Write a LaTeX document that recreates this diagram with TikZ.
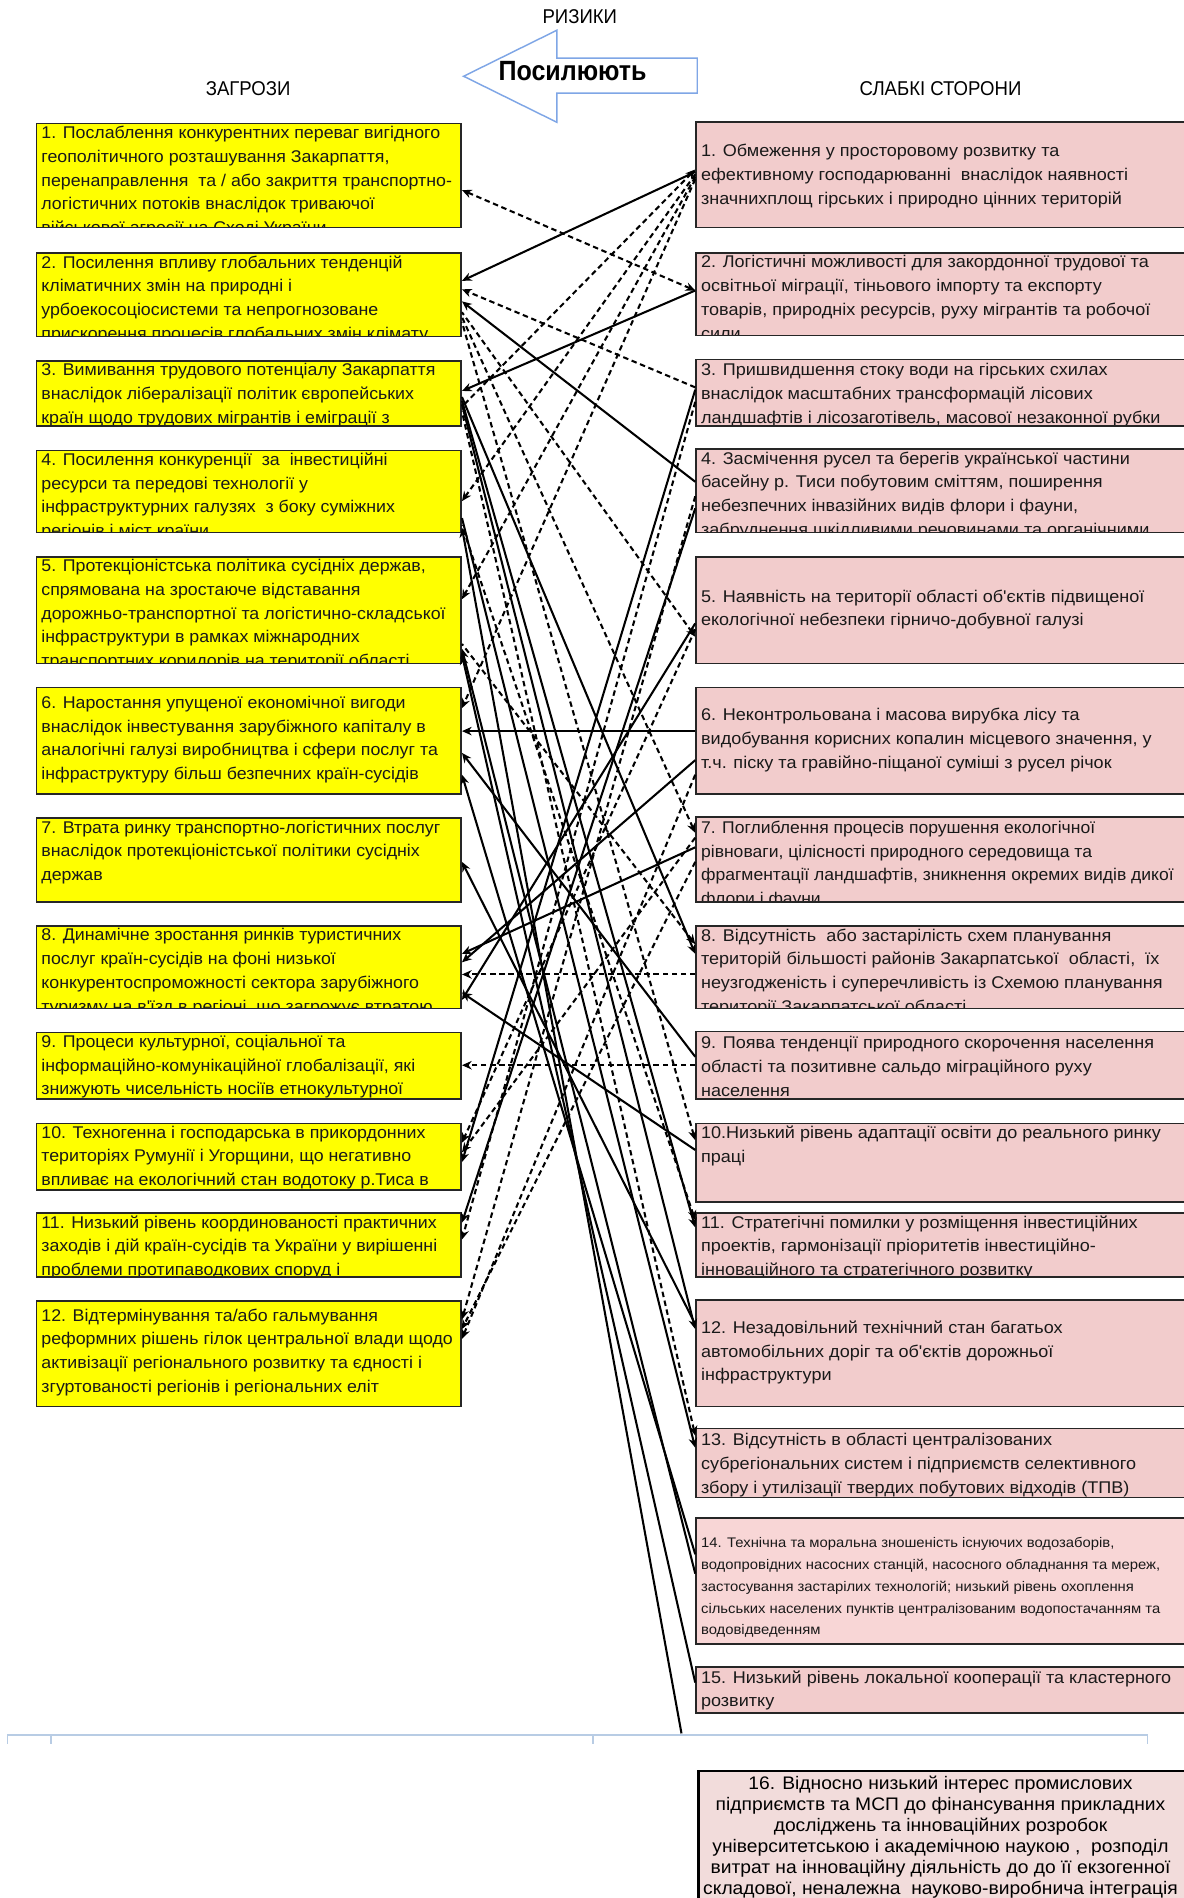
\documentclass[tikz,border=0pt]{standalone}
\usepackage{fontspec}
\setmainfont{Liberation Sans}
\newfontfamily\lfont[FakeStretch=1.05]{Liberation Sans}
\newfontfamily\rfont[FakeStretch=1.065]{Liberation Sans}
\newfontfamily\rfontn[FakeStretch=1.035]{Liberation Sans}
\newfontfamily\headfont[FakeStretch=0.93]{Liberation Sans}
\newfontfamily\arrfont[FakeStretch=0.9]{Liberation Sans}
\newfontfamily\sixfont[FakeStretch=1.06]{Liberation Sans}
\usetikzlibrary{arrows.meta,fit,calc}
\definecolor{yel}{HTML}{FFFF00}
\definecolor{pnk}{HTML}{F2CCCC}
\definecolor{pnkb}{HTML}{F8D6D6}
\definecolor{pnkc}{HTML}{F2DCDB}
\definecolor{arrblue}{HTML}{7FA6E6}
\definecolor{tbl}{HTML}{B8CCE4}
\tikzset{
  lfill/.style={fill=yel},
  rfill/.style={fill=pnk},
  frame/.style={draw=black!85, line width=1.3pt, inner sep=0pt},
  ltxt/.style={anchor=north west, inner sep=0pt, align=left,
    font=\lfont\fontsize{14}{19.6}\selectfont, text=black!90},
  rtxt/.style={ltxt, font=\rfont\fontsize{14}{19.6}\selectfont},
  rtxtn/.style={ltxt, font=\rfontn\fontsize{14}{19.6}\selectfont},
  stxt/.style={ltxt, font=\rfont\fontsize{11.5}{18}\selectfont},
  sline/.style={line width=1.7pt, -{Stealth[length=8pt,width=7pt]}},
  dline/.style={sline, dash pattern=on 4.5pt off 3pt},
  sback/.style={line width=1.7pt, {Stealth[length=8pt,width=7pt]}-},
  dback/.style={sback, dash pattern=on 4.5pt off 3pt},
  dboth/.style={line width=1.7pt, {Stealth[length=8pt,width=7pt]}-{Stealth[length=8pt,width=7pt]}, dash pattern=on 4.5pt off 3pt},
  head/.style={font=\headfont\fontsize{16.5}{18}\selectfont, inner sep=0pt},
}
% #1 name, #2 fill style, #3 x1, #4 y1, #5 x2, #6 y2, #7 text dy, #8 text style, #9 text
\newcommand\mkbox[9]{%
  \fill[#2] (#3,#4) rectangle (#5,#6);
  \begin{scope}
    \clip (#3,#4) rectangle (#5,#6);
    \node[#8] (#1t) at (#3+4,#4+#7) {#9};
  \end{scope}
  \node[frame, fit={(#3,#4)(#5,#6)}] (#1) {};
}
\begin{document}
\begin{tikzpicture}[x=1pt,y=-1pt]
\useasboundingbox (0,0) rectangle (978,1568);
\fill[white] (0,0) rectangle (978,1568);

% header
\node[head] (riz) at (479,14) {РИЗИКИ};
\node[head] (zag) at (205,73) {ЗАГРОЗИ};
\node[head] (slab) at (777,73) {СЛАБКІ СТОРОНИ};
\draw[arrblue, line width=1.2pt, fill=white]
  (383,63) -- (460,25) -- (460,48) -- (576,48) -- (576,77) -- (460,77) -- (460,101) -- cycle;
\node[font=\arrfont\bfseries\fontsize{23}{26}\selectfont, inner sep=0pt] (pos) at (473,59) {Посилюють};

% left boxes (threats)
\mkbox{L1}{lfill}{30}{102}{381}{188}{2}{ltxt}{1. Послаблення конкурентних переваг вигідного\\геополітичного розташування Закарпаття,\\перенаправлення\ \ та / або закриття транспортно-\\логістичних потоків внаслідок триваючої\\військової агресії на Сході України}
\mkbox{L2}{lfill}{30}{209}{381}{278}{2}{ltxt}{2. Посилення впливу глобальних тенденцій\\кліматичних змін на природні і\\урбоекосоціосистеми та непрогнозоване\\прискорення процесів глобальних змін клімату}
\mkbox{L3}{lfill}{30}{298}{381}{352}{2}{ltxt}{3. Вимивання трудового потенціалу Закарпаття\\внаслідок лібералізації політик європейських\\країн щодо трудових мігрантів і еміграції з}
\mkbox{L4}{lfill}{30}{372}{381}{440}{2}{ltxt}{4. Посилення конкуренції\ \ за\ \ інвестиційні\\ресурси та передові технології у\\інфраструктурних галузях\ \ з боку суміжних\\регіонів і міст країни}
\mkbox{L5}{lfill}{30}{460}{381}{548}{2}{ltxt}{5. Протекціоністська політика сусідніх держав,\\спрямована на зростаюче відставання\\дорожньо-транспортної та логістично-складської\\інфраструктури в рамках міжнародних\\транспортних коридорів на території області}
\mkbox{L6}{lfill}{30}{568}{381}{656}{7}{ltxt}{6. Наростання упущеної економічної вигоди\\внаслідок інвестування зарубіжного капіталу в\\аналогічні галузі виробництва і сфери послуг та\\інфраструктуру більш безпечних країн-сусідів}
\mkbox{L7}{lfill}{30}{676}{381}{745}{2}{ltxt}{7. Втрата ринку транспортно-логістичних послуг\\внаслідок протекціоністської політики сусідніх\\держав}
\mkbox{L8}{lfill}{30}{765}{381}{833}{2}{ltxt}{8. Динамічне зростання ринків туристичних\\послуг країн-сусідів на фоні низької\\конкурентоспроможності сектора зарубіжного\\туризму на в'їзд в регіоні, що загрожує втратою}
\mkbox{L9}{lfill}{30}{853}{381}{908}{2}{ltxt}{9. Процеси культурної, соціальної та\\інформаційно-комунікаційної глобалізації, які\\знижують чисельність носіїв етнокультурної}
\mkbox{L10}{lfill}{30}{928}{381}{983}{2}{ltxt}{10. Техногенна і господарська в прикордонних\\територіях Румунії і Угорщини, що негативно\\впливає на екологічний стан водотоку р.Тиса в}
\mkbox{L11}{lfill}{30}{1002}{381}{1055}{2}{ltxt}{11. Низький рівень координованості практичних\\заходів і дій країн-сусідів та України у вирішенні\\проблеми протипаводкових споруд і}
\mkbox{L12}{lfill}{30}{1075}{381}{1162}{6}{ltxt}{12. Відтермінування та/або гальмування\\реформних рішень гілок центральної влади щодо\\активізації регіонального розвитку та єдності і\\згуртованості регіонів і регіональних еліт}

% right boxes (weaknesses)
\mkbox{R1}{rfill}{575}{101}{995}{188}{18}{rtxt}{1. Обмеження у просторовому розвитку та\\ефективному господарюванні\ \ внаслідок наявності\\значнихплощ гірських і природно цінних територій}
\mkbox{R2}{rfill}{575}{209}{995}{277}{2}{rtxt}{2. Логістичні можливості для закордонної трудової та\\освітньої міграції, тіньового імпорту та експорту\\товарів, природніх ресурсів, руху мігрантів та робочої\\сили}
\mkbox{R3}{rfill}{575}{297}{995}{352}{3}{rtxt}{3. Пришвидшення стоку води на гірських схилах\\внаслідок масштабних трансформацій лісових\\ландшафтів і лісозаготівель, масової незаконної рубки}
\mkbox{R4}{rfill}{575}{371}{995}{440}{2}{rtxt}{4. Засмічення русел та берегів української частини\\басейну р. Тиси побутовим сміттям, поширення\\небезпечних інвазійних видів флори і фауни,\\забруднення шкідливими речовинами та органічними}
\mkbox{R5}{rfill}{575}{460}{995}{548}{27}{rtxt}{5. Наявність на території області об'єктів підвищеної\\екологічної небезпеки гірничо-добувної галузі}
\mkbox{R6}{rfill}{575}{568}{995}{656}{17}{rtxt}{6. Неконтрольована і масова вирубка лісу та\\видобування корисних копалин місцевого значення, у\\т.ч. піску та гравійно-піщаної суміші з русел річок}
\mkbox{R7}{rfill}{575}{675}{995}{745}{3}{rtxtn}{7. Поглиблення процесів порушення екологічної\\рівноваги, цілісності природного середовища та\\фрагментації ландшафтів, зникнення окремих видів дикої\\флори і фауни}
\mkbox{R8}{rfill}{575}{765}{995}{833}{2}{rtxt}{8. Відсутність\ \ або застарілість схем планування\\територій більшості районів Закарпатської\ \ області,\ \ їх\\неузгодженість і суперечливість із Схемою планування\\території Закарпатської області}
\mkbox{R9}{rfill}{575}{852}{995}{908}{4}{rtxt}{9. Поява тенденції природного скорочення населення\\області та позитивне сальдо міграційного руху\\населення}
\mkbox{R10}{rfill}{575}{928}{995}{993}{2}{rtxt}{10.Низький рівень адаптації освіти до реального ринку\\праці}
\mkbox{R11}{rfill}{575}{1002}{995}{1055}{2}{rtxt}{11. Стратегічні помилки у розміщення інвестиційних\\проектів, гармонізації пріоритетів інвестиційно-\\інноваційного та стратегічного розвитку}
\mkbox{R12}{rfill}{575}{1074}{995}{1162}{17}{rtxt}{12. Незадовільний технічний стан багатьох\\автомобільних доріг та об'єктів дорожньої\\інфраструктури}
\mkbox{R13}{rfill}{575}{1180}{995}{1237}{4}{rtxt}{13. Відсутність в області централізованих\\субрегіональних систем і підприємств селективного\\збору і утилізації твердих побутових відходів (ТПВ)}
\mkbox{R14}{fill=pnkb}{575}{1254}{995}{1358}{16}{stxt}{14. Технічна та моральна зношеність існуючих водозаборів,\\водопровідних насосних станцій, насосного обладнання та мереж,\\застосування застарілих технологій; низький рівень охоплення\\сільських населених пунктів централізованим водопостачанням та\\водовідведенням}
\mkbox{R15}{rfill}{575}{1377}{995}{1415}{3}{rtxt}{15. Низький рівень локальної кооперації та кластерного\\розвитку}

% table fragment at the bottom
\draw[tbl, line width=1.6pt] (6,1433) -- (948,1433);
\foreach \tx in {6,42,490,948}{
  \draw[tbl, line width=1.2pt] (\tx,1433) -- (\tx,1441);
}

% box 16
\fill[pnkc] (577,1463) rectangle (995,1600);
\node[draw=black, line width=1.8pt, inner sep=0pt, fit={(577,1463)(995,1600)}] (R16) {};
\node[anchor=north, inner sep=0pt, align=center,
  font=\sixfont\fontsize{15}{17.4}\selectfont] (R16t) at (777,1467)
  {16. Відносно низький інтерес промислових\\підприємств та МСП до фінансування прикладних\\досліджень та інноваційних розробок\\університетською і академічною наукою ,\ \ розподіл\\витрат на інноваційну діяльність до до її екзогенної\\складової, неналежна\ \ науково-виробнича інтеграція};

% connectors: top cluster
\coordinate (bot) at (563,1432);
\draw[dboth] (R2.west |- 0,240) -- (L1.east |- 0,157);
\draw[sline] (R1.west |- 0,142) -- (L2.east |- 0,232);
\draw[dline] (R3.west |- 0,320) -- (L2.east |- 0,239);
\draw[sline] (R4.west |- 0,398) -- (L2.east |- 0,249);
\draw[sline] (R2.west |- 0,240) -- (L3.east |- 0,323);
\draw[dback] (R1.west |- 0,140) -- (L3.east |- 0,336);
\draw[dline] (R1.west |- 0,144) -- (L4.east |- 0,414);
\draw[dline] (R1.west |- 0,146) -- (L5.east |- 0,495);
\draw[dline] (R1.west |- 0,148) -- (L6.east |- 0,585);
\draw[sline] (R6.west |- 0,604) -- (L6.east |- 0,604);
\draw[dline] (R8.west |- 0,805) -- (L8.east |- 0,805);
\draw[dline] (R9.west |- 0,880) -- (L9.east |- 0,880);
% upper-left to lower-right
\draw[dback] (R5.west |- 0,526) -- (L2.east |- 0,258);
\draw[dback] (R7.west |- 0,688) -- (L2.east |- 0,262);
\draw[dback] (R10.west |- 0,942) -- (L2.east |- 0,266);
\draw[sback] (R8.west |- 0,788) -- (L3.east |- 0,328);
\draw[sback] (R11.west |- 0,1014) -- (L3.east |- 0,331);
\draw[sback] (R12.west |- 0,1098) -- (L3.east |- 0,334);
\draw[dback] (R13.west |- 0,1186) -- (L3.east |- 0,340);
\draw[sback] (R13.west |- 0,1196) -- (L4.east |- 0,428);
\draw[dback] (R11.west |- 0,1008) -- (L4.east |- 0,434);
\draw[sline] (bot) -- (L4.east |- 0,436);
\draw[dback] (R8.west |- 0,780) -- (L5.east |- 0,532);
\draw[sline] (R14.west |- 0,1300) -- (L5.east |- 0,536);
\draw[sline] (R15.west |- 0,1390) -- (L5.east |- 0,541);
\draw[sline] (R9.west |- 0,873) -- (L6.east |- 0,622);
\draw[sline] (R14.west |- 0,1284) -- (L6.east |- 0,640);
\draw[sline] (R12.west |- 0,1094) -- (L7.east |- 0,712);
\draw[sline] (R10.west |- 0,950) -- (L8.east |- 0,820);
% upper-right to lower-left
\draw[sline] (R3.west |- 0,322) -- (L10.east |- 0,960);
\draw[dline] (R3.west |- 0,332) -- (L11.east |- 0,1024);
\draw[sline] (R4.west |- 0,420) -- (L11.east |- 0,1010);
\draw[dline] (R4.west |- 0,410) -- (L12.east |- 0,1090);
\draw[sline] (R5.west |- 0,515) -- (L8.east |- 0,826);
\draw[dline] (R5.west |- 0,520) -- (L10.east |- 0,944);
\draw[sline] (R6.west |- 0,628) -- (L8.east |- 0,795);
\draw[dline] (R6.west |- 0,640) -- (L12.east |- 0,1106);
\draw[sline] (R7.west |- 0,700) -- (L8.east |- 0,788);
\draw[dline] (R7.west |- 0,692) -- (L10.east |- 0,952);
\draw[dline] (R7.west |- 0,712) -- (L12.east |- 0,1098);
\end{tikzpicture}
\end{document}
